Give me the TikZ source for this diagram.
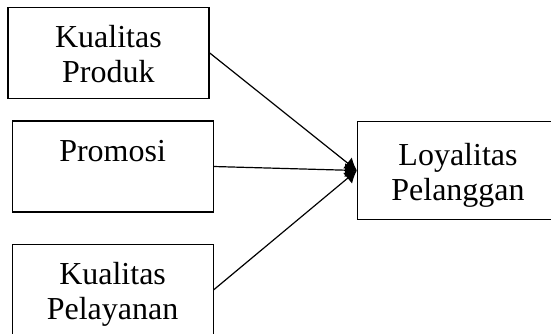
\documentclass[tikz,border=0pt]{standalone}
\usepackage{fontspec}
\setmainfont{Liberation Serif}
\usetikzlibrary{arrows.meta}
\newcommand{\topstrut}{\rule{0pt}{17.25pt}}
\begin{document}
\begin{tikzpicture}[x=0.5pt,y=-0.5pt,
every node/.style={%
line width=0.6pt,
draw,
anchor=center,
align=center,
inner sep=0pt,
font=\fontsize{16}{17.5}\selectfont
},
box/.style={minimum width=100.5pt,minimum height=45.5pt},
arw/.style={-{Latex[length=6pt,width=7pt]},line width=0.6pt}
]
\path[use as bounding box,clip](0,0)rectangle(551,333);
\node[box]at(108.4,52.8)(kp){\topstrut Kualitas\\\strut Produk};
\node[box]at(112.6,166.5)(pr){\topstrut Promosi\\\strut};
\node[box]at(112.6,289.8)(kl){\topstrut Kualitas\\\strut Pelayanan};
\node[box,minimum height=48.8pt]at(458,170.5)(lp){\topstrut Loyalitas\\\strut Pelanggan};
\draw[arw](kp.east)--(lp.west);
\draw[arw](pr.east)--(lp.west);
\draw[arw](kl.east)--(lp.west);
\end{tikzpicture}
\end{document}
